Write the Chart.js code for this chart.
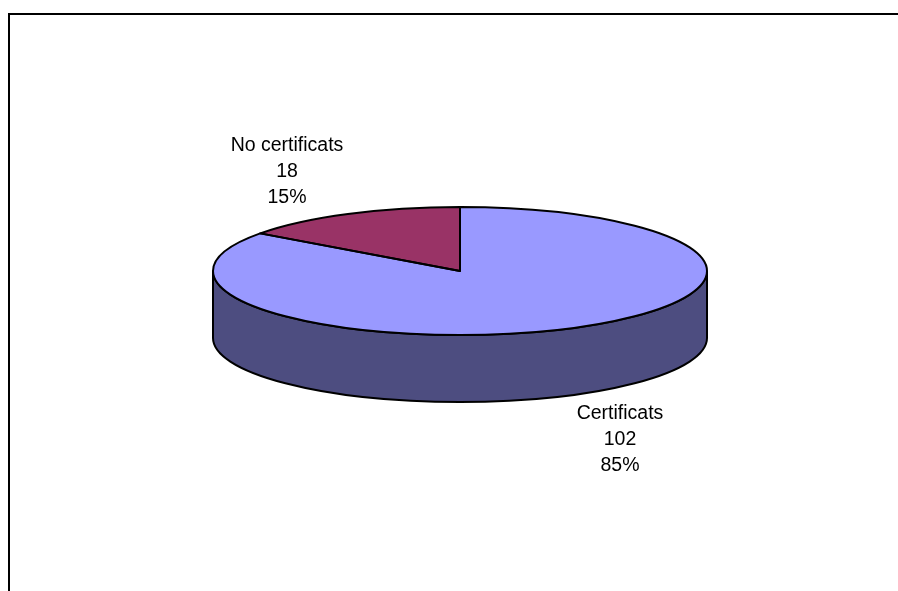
<!DOCTYPE html>
<html lang="en">
<head>
<meta charset="UTF-8">
<title>Certificats</title>
<script src="https://cdn.jsdelivr.net/npm/chart.js"></script>
<style>
    html, body { margin: 0; padding: 0; background: #fff; }
    #wrap { position: relative; width: 898px; height: 591px; overflow: hidden; }
    canvas { position: absolute; left: 0; top: 0; }
</style>
</head>
<body>
<div id="wrap"><canvas id="pie" width="898" height="591"></canvas></div>
<script>
const categories = ['Certificats', 'No certificats'];
const counts = [102, 18];
const percents = ['85%', '15%'];
const sliceColors = ['#9999ff', '#993366'];
const sideColor = '#4d4d80';

// the library draws a round pie, this squashes it into the tilted disc
const squash = 64 / 247;
const depth = 67;

const framePlugin = {
    id: 'frame',
    beforeDraw(chart) {
        const ctx = chart.ctx;
        ctx.save();
        ctx.strokeStyle = '#000';
        ctx.lineWidth = 2;
        ctx.beginPath();
        ctx.moveTo(9, 591);
        ctx.lineTo(9, 14);
        ctx.lineTo(898, 14);
        ctx.stroke();
        ctx.restore();
    }
};

const tiltPlugin = {
    id: 'tilt',
    beforeDatasetsDraw(chart) {
        const ctx = chart.ctx;
        const arc = chart.getDatasetMeta(0).data[0];
        const cx = arc.x, cy = arc.y, r = arc.outerRadius;
        const ry = r * squash;

        // wall below the front half of the disc
        ctx.save();
        ctx.beginPath();
        ctx.ellipse(cx, cy, r, ry, 0, Math.PI, 0, true);
        ctx.lineTo(cx + r, cy + depth);
        ctx.ellipse(cx, cy + depth, r, ry, 0, 0, Math.PI, false);
        ctx.closePath();
        ctx.fillStyle = sideColor;
        ctx.fill();
        ctx.strokeStyle = '#000';
        ctx.lineWidth = 2;
        ctx.stroke();
        ctx.restore();

        ctx.save();
        ctx.translate(cx, cy);
        ctx.scale(1, squash);
        ctx.translate(-cx, -cy);
    },
    afterDatasetsDraw(chart) {
        const ctx = chart.ctx;
        ctx.restore();

        // outlines go here so the squash does not thin them
        ctx.save();
        ctx.strokeStyle = '#000';
        ctx.lineWidth = 2;
        ctx.lineJoin = 'round';
        chart.getDatasetMeta(0).data.forEach(arc => {
            const ry = arc.outerRadius * squash;
            ctx.beginPath();
            ctx.moveTo(arc.x, arc.y);
            ctx.ellipse(arc.x, arc.y, arc.outerRadius, ry, 0, arc.startAngle, arc.endAngle);
            ctx.closePath();
            ctx.stroke();
        });
        ctx.restore();
    },
    afterDraw(chart) {
        const ctx = chart.ctx;
        ctx.save();
        ctx.font = '19.5px "Liberation Sans", Arial, sans-serif';
        ctx.fillStyle = '#000';
        ctx.textAlign = 'center';
        ctx.textBaseline = 'middle';
        [[620, 414], [287, 146]].forEach((pos, i) => {
            ctx.fillText(categories[i], pos[0], pos[1]);
            ctx.fillText(String(counts[i]), pos[0], pos[1] + 26);
            ctx.fillText(percents[i], pos[0], pos[1] + 52);
        });
        ctx.restore();
    }
};

new Chart(document.getElementById('pie'), {
    type: 'pie',
    data: {
        labels: categories,
        datasets: [{
            data: counts,
            backgroundColor: sliceColors,
            borderWidth: 0
        }]
    },
    options: {
        responsive: false,
        animation: false,
        radius: 247,
        layout: { padding: { left: 22, bottom: 49 } },
        plugins: { legend: { display: false }, tooltip: { enabled: false } }
    },
    plugins: [framePlugin, tiltPlugin]
});
</script>
</body>
</html>
